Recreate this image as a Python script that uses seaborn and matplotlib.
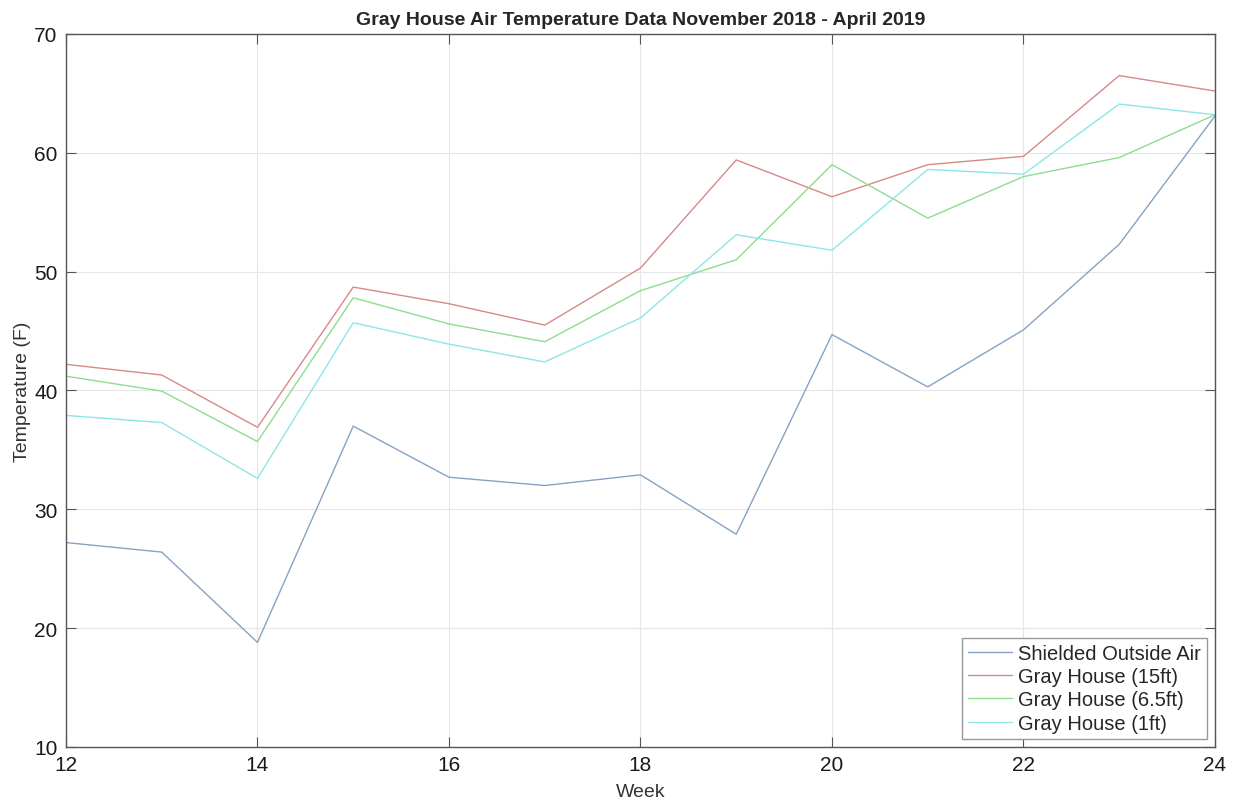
import matplotlib
matplotlib.use("Agg")
import matplotlib.pyplot as plt
import seaborn as sns
import pandas as pd

# Werte
weeks = [12, 13, 14, 15, 16, 17, 18, 19, 20, 21, 22, 23, 24]
outside_air = [27.2, 26.4, 18.8, 37.0, 32.7, 32.0, 32.9, 27.9, 44.7, 40.3, 45.1, 52.3, 63.1]
gray_15ft = [42.2, 41.3, 36.9, 48.7, 47.3, 45.5, 50.3, 59.4, 56.3, 59.0, 59.7, 66.5, 65.2]
gray_6_5ft = [41.2, 39.95, 35.7, 47.8, 45.6, 44.1, 48.4, 51.0, 59.0, 54.5, 58.0, 59.6, 63.2]
gray_1ft = [37.9, 37.3, 32.6, 45.7, 43.9, 42.4, 46.1, 53.1, 51.8, 58.6, 58.2, 64.1, 63.2]

series_names = ["Shielded Outside Air", "Gray House (15ft)",
                "Gray House (6.5ft)", "Gray House (1ft)"]
series_values = [outside_air, gray_15ft, gray_6_5ft, gray_1ft]
colors = ["#86a3c3", "#d98888", "#8fdc8f", "#8ee6e6"]

rows = []
for name, vals in zip(series_names, series_values):
    for w, v in zip(weeks, vals):
        rows.append({"Week": w, "Temperature": v, "Series": name})
df = pd.DataFrame(rows)

sns.set_style("ticks")
plt.rcParams['font.family'] = ['Liberation Sans', 'DejaVu Sans']

fig = plt.figure(figsize=(12.33, 8.04), dpi=100)
ax = fig.add_axes([0.0535, 0.0697, 0.9319, 0.8868])

sns.lineplot(data=df, x="Week", y="Temperature", hue="Series",
             hue_order=series_names, palette=colors, linewidth=1.0, ax=ax)

ax.set_xlim(12, 24)
ax.set_ylim(10, 70)
ax.set_xticks(range(12, 25, 2))
ax.set_yticks(range(10, 71, 10))
ax.grid(True, color="#e6e6e6", linewidth=0.8)
ax.set_axisbelow(True)
for s in ax.spines.values():
    s.set_visible(True)
    s.set_color("#555555")
    s.set_linewidth(1.0)
ax.tick_params(direction="in", length=7, width=0.8, color="#555555",
               labelsize=15, labelcolor="#1a1a1a", top=True, right=True, pad=6)

ax.set_xlabel("Week", fontsize=14, color="#333333", labelpad=6)
ax.set_ylabel("Temperature (F)", fontsize=14, color="#333333", labelpad=2)
ax.set_title("Gray House Air Temperature Data November 2018 - April 2019",
             fontsize=14, fontweight="bold", pad=7)

leg = ax.legend(loc="lower right", fontsize=14.5, frameon=True, fancybox=False,
                edgecolor="#999999", framealpha=1, borderaxespad=0.4,
                handlelength=2.2, handletextpad=0.3, labelspacing=0.22,
                borderpad=0.3)
leg.get_frame().set_linewidth(1.0)

plt.savefig("out.png", dpi=100)
